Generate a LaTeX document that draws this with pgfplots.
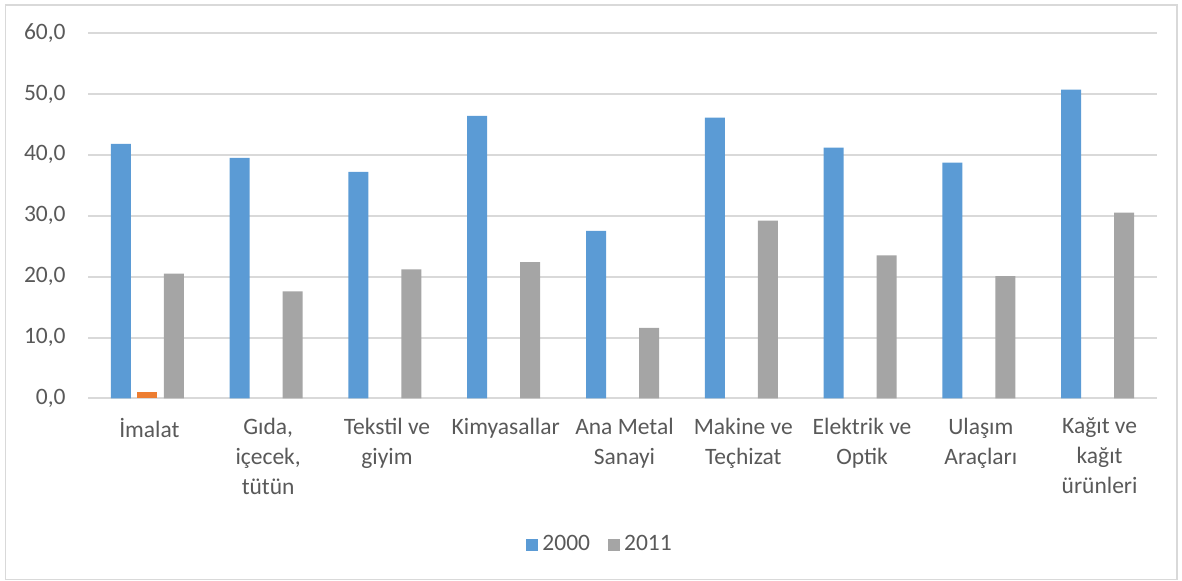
\documentclass[border=0pt]{standalone}
\usepackage{pgfplots}
\pgfplotsset{compat=1.18}
\usepackage{fontspec}
\setmainfont{Carlito}
\definecolor{cblue}{HTML}{5B9BD5}
\definecolor{corange}{HTML}{ED7D31}
\definecolor{cgray}{HTML}{A5A5A5}
\definecolor{gridc}{HTML}{D9D9D9}
\definecolor{txt}{HTML}{595959}
\begin{document}
\begin{tikzpicture}[x=1pt,y=1pt]
\useasboundingbox (0,0) rectangle (591,290.5);
\draw[gridc, line width=0.8pt] (2.75,0.75) rectangle (588.5,288);
\begin{axis}[
  at={(44pt,91.25pt)}, anchor=south west,
  scale only axis, width=534.5pt, height=182.75pt,
  xmin=-0.5, xmax=8.5, ymin=0, ymax=60,
  ytick={0,10,...,60},
  xtick={0,...,8},
  xticklabels={{İmalat},{Gıda,\\içecek,\\tütün},{Tekstil ve\\giyim},{Kimyasallar},{Ana Metal\\Sanayi},{Makine ve\\Teçhizat},{Elektrik ve\\Optik},{Ulaşım\\Araçları},{Kağıt ve\\kağıt\\ürünleri}},
  axis x line=bottom, axis y line=left,
  y axis line style={draw=none},
  x axis line style={draw=gridc, line width=1pt, -},
  major tick length=0pt,
  ymajorgrids, major grid style={draw=gridc, line width=1pt},
  /pgf/number format/.cd, fixed, fixed zerofill, precision=1, use comma, assume math mode=true,
  /pgfplots/.cd,
  yticklabel style={font=\fontsize{11.75}{14.3}\selectfont, text=txt, anchor=east, inner sep=0pt, xshift=-11pt},
  xticklabel style={font=\fontsize{11.75}{15}\selectfont, text=txt, align=center, anchor=north, inner sep=0pt, yshift=-9.5pt, xshift=1pt},
  ybar, bar width=10pt,
  legend style={at={(0.48,-0.4)}, anchor=center, draw=none, fill=none, legend columns=2, font=\fontsize{11.75}{14.3}\selectfont, text=txt, /tikz/every even column/.append style={column sep=7pt}},
  legend image code/.code={\fill[#1, draw=none] (0pt,-3pt) rectangle (6pt,3pt);},
]
\addplot[fill=cblue, draw=none, bar shift=-13.25pt] coordinates {(0,41.8) (1,39.5) (2,37.2) (3,46.4) (4,27.5) (5,46.1) (6,41.2) (7,38.7) (8,50.7)};
\addlegendentry{2000}
\addplot[fill=corange, draw=none, bar shift=0pt, forget plot] coordinates {(0,1.0)};
\addplot[fill=cgray, draw=none, bar shift=13.25pt] coordinates {(0,20.5) (1,17.6) (2,21.2) (3,22.4) (4,11.6) (5,29.2) (6,23.5) (7,20.1) (8,30.5)};
\addlegendentry{2011}
\end{axis}
\end{tikzpicture}
\end{document}
